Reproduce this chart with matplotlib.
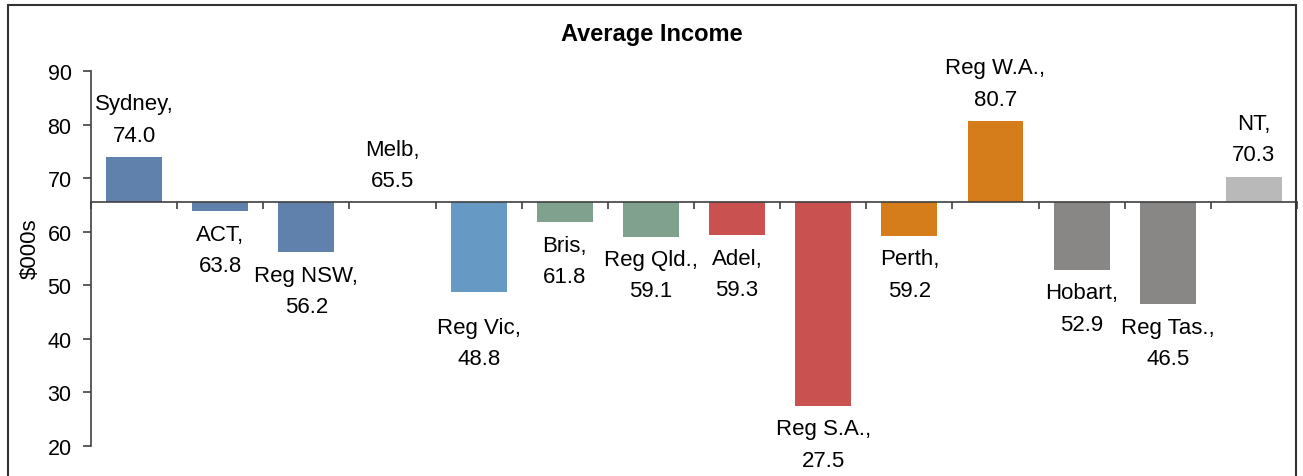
import numpy as np
import matplotlib.pyplot as plt
from matplotlib.patches import Rectangle

plt.rcParams['font.family'] = ['Liberation Sans', 'DejaVu Sans']

# data ($000s)
regions = ["Sydney", "ACT", "Reg NSW", "Melb", "Reg Vic", "Bris", "Reg Qld.",
           "Adel", "Reg S.A.", "Perth", "Reg W.A.", "Hobart", "Reg Tas.", "NT"]
income = [74.0, 63.8, 56.2, 65.5, 48.8, 61.8, 59.1,
          59.3, 27.5, 59.2, 80.7, 52.9, 46.5, 70.3]
baseline = 65.5  # bars hang off the Melbourne value
colors = ["#5f81ab", "#5f81ab", "#5f81ab", "#5f81ab", "#6799c5", "#80a18e", "#80a18e",
          "#c95150", "#c95150", "#d57d1b", "#d57d1b", "#888786", "#888786", "#b9b9b9"]

fig = plt.figure(figsize=(13.03, 4.77), dpi=100)
ax = fig.add_axes([91 / 1303, 1 - 447 / 477, 1206 / 1303, 375 / 477])

x = np.arange(len(regions))
heights = [v - baseline for v in income]
ax.bar(x, heights, bottom=baseline, width=0.65, color=colors)

ax.set_xlim(-0.5, len(regions) - 0.5)
ax.set_ylim(20, 90)
ax.set_yticks(range(20, 91, 10))
ax.tick_params(axis='y', labelsize=15.5, length=6, width=1.2, color="#404040", pad=8)
ax.set_xticks(np.arange(len(regions) + 1) - 0.5)
ax.set_xticklabels([])
ax.tick_params(axis='x', direction='out', length=5, width=1.2, color="#404040")

ax.spines['top'].set_visible(False)
ax.spines['right'].set_visible(False)
ax.spines['bottom'].set_position(('data', baseline))
for s in ['left', 'bottom']:
    ax.spines[s].set_color("#404040")
    ax.spines[s].set_linewidth(1.2)

ax.set_ylabel(r"\$000s", fontsize=16)
ax.yaxis.set_label_coords(-0.0415, 0.53)

# extra nudges (points) for labels placed further from their bar
nudge = {"Reg Vic": 9}
for xi, name, v in zip(x, regions, income):
    off = nudge.get(name, 0)
    if v >= baseline:
        ax.annotate(f"{name},\n{v:.1f}", (xi, v), xytext=(0, 8 + off),
                    textcoords='offset points', ha='center', va='bottom',
                    fontsize=16, linespacing=1.65)
    else:
        ax.annotate(f"{name},\n{v:.1f}", (xi, v), xytext=(0, -9 - off),
                    textcoords='offset points', ha='center', va='top',
                    fontsize=16, linespacing=1.65)

fig.text(652 / 1303, 1 - 35 / 477, "Average Income", ha='center', va='center',
         fontsize=17, fontweight='bold')

# outer chart frame (bottom edge is cut off in the original)
fig.patches.append(Rectangle((8 / 1303, -0.05), 1288 / 1303, 1.05 - 6 / 477,
                             transform=fig.transFigure, fill=False,
                             edgecolor="#333333", linewidth=1.5))

fig.savefig("out.png", dpi=100)
